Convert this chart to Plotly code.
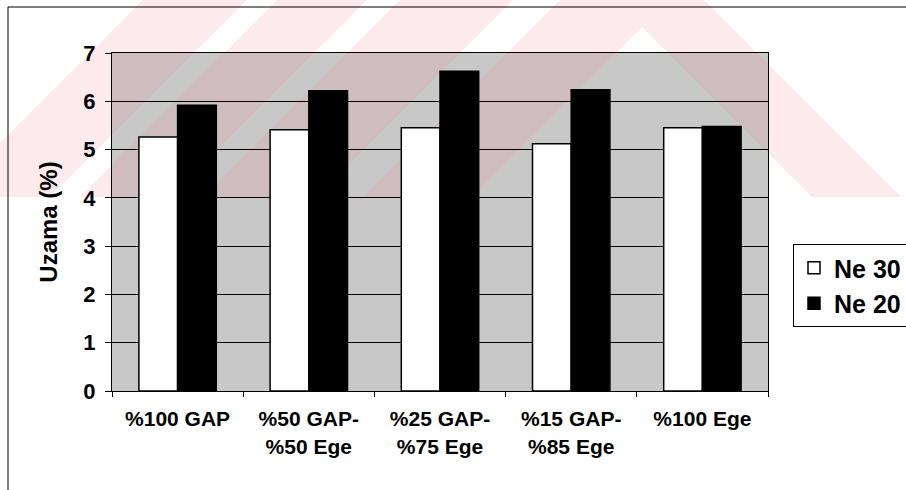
import plotly.graph_objects as go

categories = ["%100 GAP", "%50 GAP-<br>%50 Ege", "%25 GAP-<br>%75 Ege", "%15 GAP-<br>%85 Ege", "%100 Ege"]
ne30 = [5.26, 5.41, 5.45, 5.12, 5.45]
ne20 = [5.92, 6.22, 6.62, 6.24, 5.48]
y_ticks = [0, 1, 2, 3, 4, 5, 6, 7]
series_names = ["Ne 30", "Ne 20"]

W, H = 906, 490
L, R, T, B = 112, 768, 53, 391  # plot area in pixels


def px(x):
    return (x - L) / (R - L)


def py(y):
    return (B - y) / (B - T)


def poly(points):
    pts = [f"{px(x):.5f},{py(y):.5f}" for x, y in points]
    return "M" + " L".join(pts) + " Z"


FONT = "Liberation Sans, Arial, sans-serif"

fig = go.Figure()
fig.add_trace(go.Bar(
    x=categories, y=ne30, name=series_names[0],
    marker=dict(color="white", line=dict(color="black", width=1.5)),
))
fig.add_trace(go.Bar(
    x=categories, y=ne20, name=series_names[1],
    marker=dict(color="black", line=dict(color="black", width=1.5)),
))

# pale watermark bands (decorative background)
bands = [
    [(143, 0), (247, 0), (50, 197), (-54, 197)],
    [(277, 0), (367, 0), (170, 197), (80, 197)],
    [(400, 0), (513, 0), (316, 197), (203, 197)],
    [(560, 0), (669, 0), (472, 197), (363, 197)],
    [(615, 0), (669, 0), (642, 27)],
    [(615, 0), (704, 0), (901, 197), (812, 197)],
]
path = " ".join(poly(b) for b in bands)
shapes = [
    dict(type="path", path=path, xref="paper", yref="paper", layer="below",
         fillcolor="rgba(240,130,145,0.17)", line=dict(width=0)),
    # outer chart frame (left and top edges)
    dict(type="line", xref="paper", yref="paper", x0=px(8), x1=px(8), y0=py(7), y1=py(495),
         line=dict(color="black", width=1)),
    dict(type="line", xref="paper", yref="paper", x0=px(8), x1=px(910), y0=py(7), y1=py(7),
         line=dict(color="black", width=1)),
]

fig.update_layout(
    width=W, height=H,
    margin=dict(l=L, r=W - R, t=T, b=H - B, pad=0, autoexpand=False),
    paper_bgcolor="white",
    plot_bgcolor="#c8c8c8",
    barmode="group",
    bargap=0.41,
    bargroupgap=0,
    shapes=shapes,
    font=dict(family=FONT, color="black"),
    showlegend=True,
    legend=dict(
        x=px(793), y=py(244), xanchor="left", yanchor="top",
        bgcolor="white", bordercolor="black", borderwidth=1,
        font=dict(size=25, family=FONT, color="black", weight="bold"),
        tracegroupgap=4,
    ),
)
fig.update_xaxes(
    showline=True, linecolor="black", linewidth=1, mirror=True,
    ticks="outside", tickson="boundaries", ticklen=5, tickcolor="black",
    ticklabelstandoff=9,
    tickfont=dict(size=21, family=FONT, color="black", weight="bold"),
    showgrid=False,
)
fig.update_yaxes(
    range=[0, 7], tickvals=y_ticks,
    showline=True, linecolor="black", linewidth=1, mirror=True,
    ticks="outside", ticklen=6, tickcolor="black",
    ticklabelstandoff=5,
    tickfont=dict(size=22, family=FONT, color="black", weight="bold"),
    showgrid=True, gridcolor="black", gridwidth=1,
    zeroline=False,
    title=dict(text="Uzama (%)", font=dict(size=24, family=FONT, color="black", weight="bold"),
               standoff=18),
)

fig.write_html("out.html")
